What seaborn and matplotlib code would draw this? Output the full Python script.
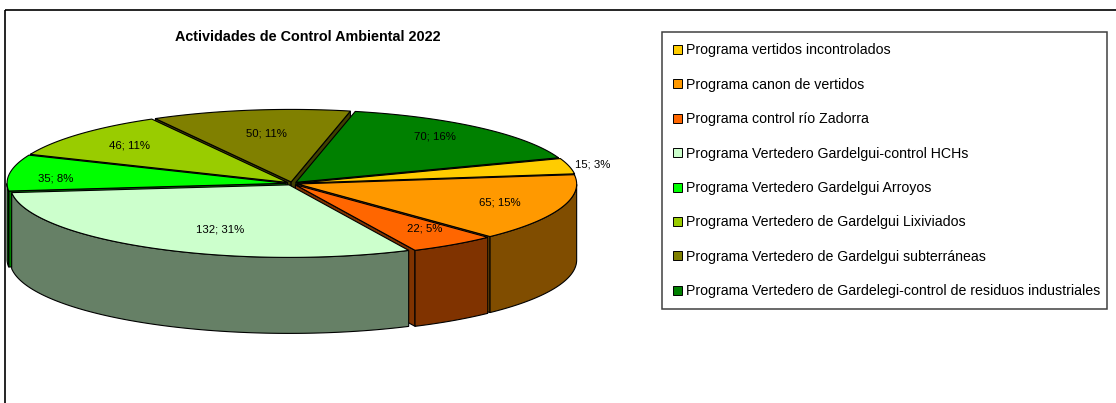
import numpy as np
import seaborn as sns
import matplotlib.pyplot as plt
from matplotlib.patches import Patch, Rectangle

title = "Actividades de Control Ambiental 2022"
programas = [
    "Programa vertidos incontrolados",
    "Programa canon de vertidos",
    "Programa control río Zadorra",
    "Programa Vertedero Gardelgui-control HCHs",
    "Programa Vertedero Gardelgui Arroyos",
    "Programa Vertedero de Gardelgui Lixiviados",
    "Programa Vertedero de Gardelgui subterráneas",
    "Programa Vertedero de Gardelegi-control de residuos industriales",
]
valores = [15, 65, 22, 132, 35, 46, 50, 70]
porcentajes = [3, 15, 5, 31, 8, 11, 11, 16]
colores = ["#FFCC00", "#FF9900", "#FF6600", "#CCFFCC", "#00FF00", "#99CC00", "#808000", "#008000"]

# pie geometry in image pixels
cx, cy = 292, 183.5
rx = 279
squash = 0.26
depth = 76
explode = 6
start = 19.8

# label position: fraction of radius, angle shift (deg)
label_r = [1.11, 0.79, 0.78, 0.68, 0.85, 0.78, 0.70, 0.83]
label_da = [0, 0, 3, 7, 4, 0, -1, 3]

sns.set_style("white")
plt.rcParams["font.family"] = ["Liberation Sans", "DejaVu Sans"]
paleta = sns.color_palette(colores)

fig = plt.figure(figsize=(11.16, 4.03), dpi=100)
ax = fig.add_axes([0, 0, 1, 1])
ax.set_xlim(0, 1116)
ax.set_ylim(403, 0)
ax.axis("off")

# outer chart frame, runs off the image on the right and bottom
ax.add_patch(Rectangle((5, 10), 1200, 500, fill=False, ec="black", lw=1.2, zorder=0))
# legend box
ax.add_patch(Rectangle((662, 32), 445, 277, fill=False, ec="#404040", lw=1.1, zorder=1))


def punto(t, ox, oy, r=rx, dz=0):
    t = np.radians(t)
    return cx + ox + r * np.cos(t), cy + oy - r * squash * np.sin(t) + dz


total = sum(valores)
bordes = start - np.cumsum([0] + valores) * 360 / total
slices = []
for i in range(len(valores)):
    a, b = bordes[i], bordes[i + 1]
    mid = np.radians((a + b) / 2)
    ox = explode * np.cos(mid)
    oy = -explode * squash * np.sin(mid)
    slices.append((i, a, b, ox, oy, np.sin(mid)))

# back to front
slices.sort(key=lambda s: -s[5])
z = 2
for i, a, b, ox, oy, _ in slices:
    col = paleta[i]
    dark = tuple(c * 0.5 for c in col)
    ang = np.linspace(a, b, 120)
    xs, ys = punto(ang, ox, oy)
    ap = (cx + ox, cy + oy)

    # radial faces that look at the viewer
    for edge, visible in ((a, np.cos(np.radians(a)) < 0), (b, np.cos(np.radians(b)) > 0)):
        if visible:
            ex, ey = punto(edge, ox, oy)
            ax.fill([ap[0], ex, ex, ap[0]], [ap[1], ey, ey + depth, ap[1] + depth],
                    fc=dark, ec="black", lw=0.8, zorder=z)
            z += 1

    # outer wall, only the front half of the ellipse
    t = ang % 360
    keep = t > 180
    if keep.any():
        wall = ang[keep]
        wx, wy = punto(wall, ox, oy)
        ax.fill(np.r_[wx, wx[::-1]], np.r_[wy, wy[::-1] + depth],
                fc=dark, ec="black", lw=0.8, zorder=z)
        z += 1

    ax.fill(np.r_[ap[0], xs], np.r_[ap[1], ys], fc=col, ec="black", lw=0.8, zorder=z)
    z += 1

for i in range(len(valores)):
    t = (bordes[i] + bordes[i + 1]) / 2 + label_da[i]
    lx, ly = punto(t, 0, 0, r=rx * label_r[i])
    ax.text(lx, ly, f"{valores[i]}; {porcentajes[i]}%", fontsize=8.2, color="black",
            ha="center", va="center", zorder=z + 1)

ax.text(308, 37, title, fontsize=10.4, fontweight="bold", color="black", ha="center", va="center")

handles = [Patch(fc=c, ec="black", lw=0.7) for c in paleta]
leg = ax.legend(handles, programas, loc="upper left", bbox_to_anchor=(662 / 1116, 1 - 32 / 403),
                bbox_transform=fig.transFigure, prop={"size": 10.15}, frameon=False,
                borderaxespad=0, handlelength=0.6, handleheight=0.6,
                handletextpad=0.3, labelspacing=1.45, borderpad=0.8)
for txt in leg.get_texts():
    txt.set_color("black")

plt.savefig("out.png", dpi=100)
